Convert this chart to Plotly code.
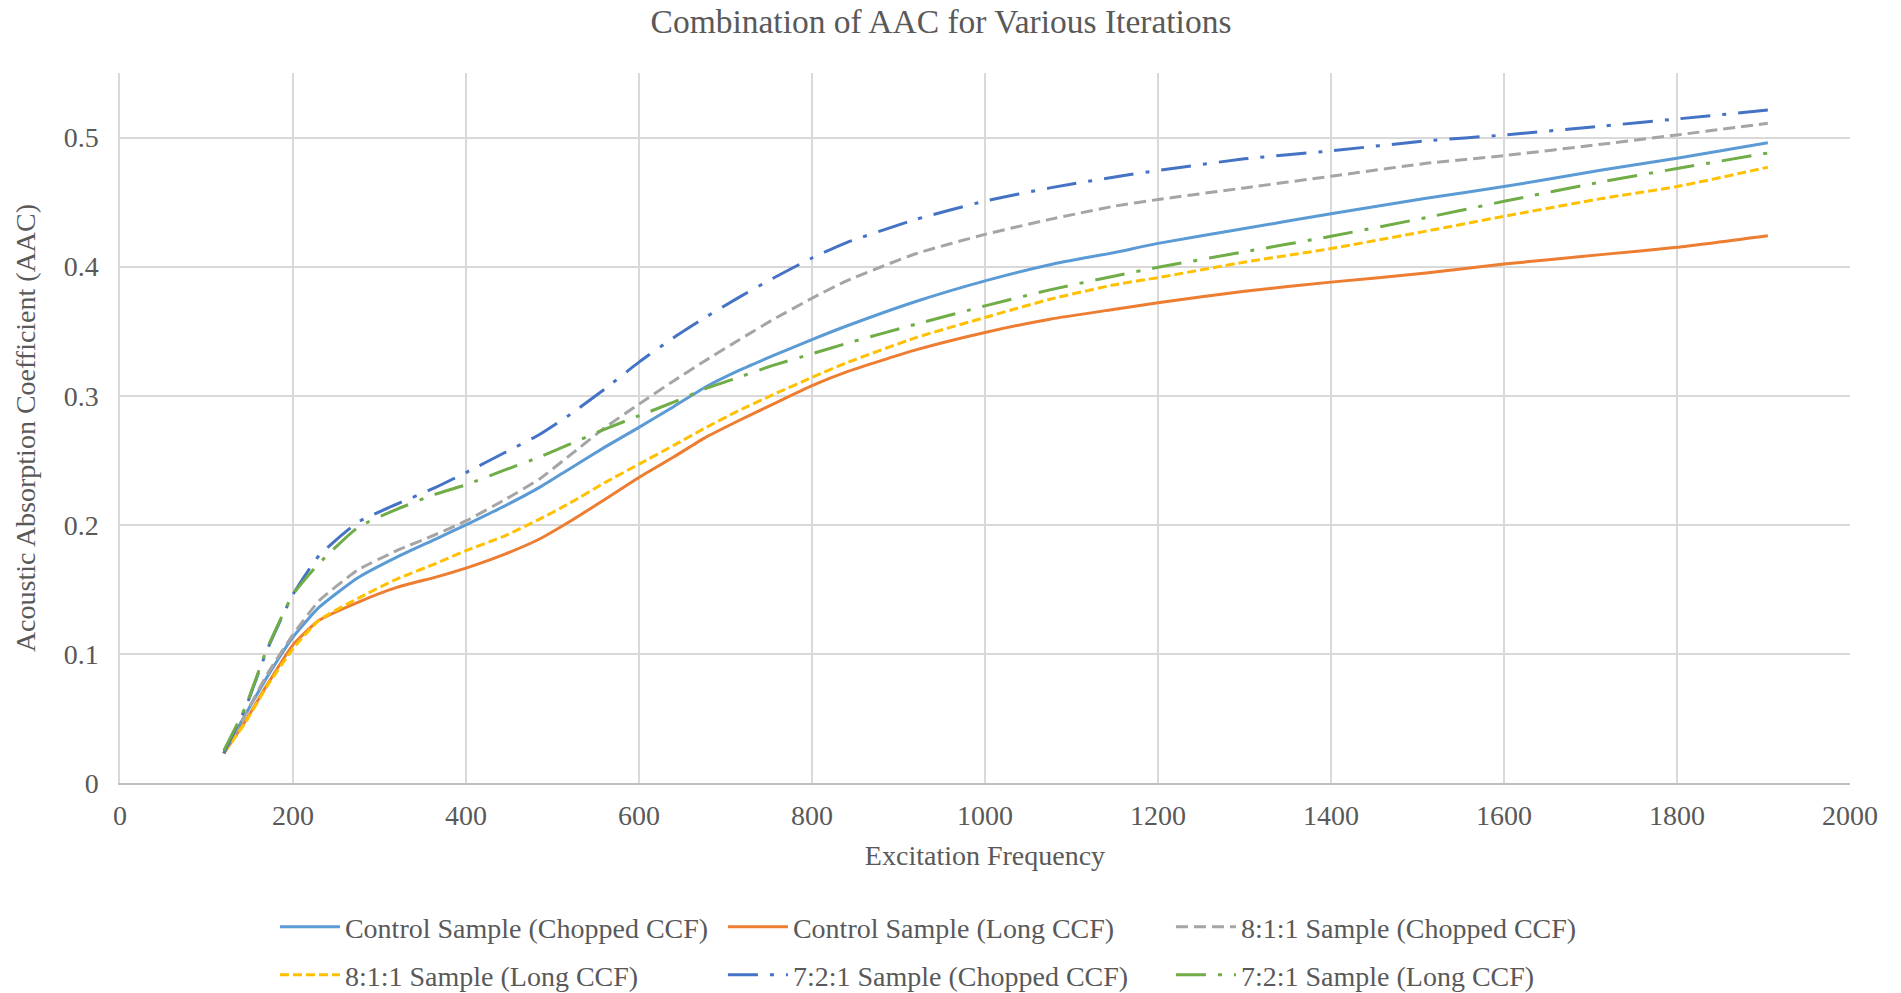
import plotly.graph_objects as go

freq = [120, 145, 170, 200, 230, 275, 320, 365, 400, 445, 485, 520, 560, 600, 640, 675,
        715, 755, 800, 840, 920, 1000, 1075, 1150, 1200, 1300, 1400, 1510, 1600, 1715, 1800, 1905]

control_chopped = [0.023, 0.053, 0.082, 0.113, 0.136, 0.159, 0.175, 0.189, 0.200, 0.2147,
                   0.229, 0.2435, 0.260, 0.2755, 0.2915, 0.306, 0.3194, 0.331, 0.3435, 0.354,
                   0.373, 0.389, 0.4015, 0.411, 0.418, 0.4295, 0.441, 0.453, 0.462, 0.475,
                   0.484, 0.496]

control_long = [0.023, 0.048, 0.076, 0.107, 0.126, 0.140, 0.1515, 0.1595, 0.1665, 0.1773,
                0.189, 0.2025, 0.2195, 0.2367, 0.2525, 0.267, 0.2806, 0.2935, 0.3078, 0.3185,
                0.3355, 0.349, 0.3593, 0.367, 0.372, 0.381, 0.388, 0.395, 0.402, 0.4095,
                0.415, 0.424]

s811_chopped = [0.023, 0.053, 0.084, 0.115, 0.141, 0.165, 0.180, 0.1925, 0.203, 0.2195,
                0.2355, 0.2538, 0.275, 0.2935, 0.3115, 0.3265, 0.343, 0.359, 0.3755, 0.389,
                0.410, 0.425, 0.4366, 0.4469, 0.452, 0.461, 0.470, 0.480, 0.486, 0.495,
                0.502, 0.511]

s811_long = [0.023, 0.047, 0.075, 0.104, 0.126, 0.143, 0.158, 0.170, 0.180, 0.1915,
             0.2044, 0.2168, 0.2325, 0.247, 0.2615, 0.2745, 0.2884, 0.3008, 0.3142, 0.3255,
             0.345, 0.3606, 0.3747, 0.386, 0.3915, 0.4035, 0.414, 0.4275, 0.439, 0.453,
             0.462, 0.477]

s721_chopped = [0.023, 0.058, 0.103, 0.146, 0.176, 0.202, 0.216, 0.229, 0.2405, 0.256,
                0.270, 0.2853, 0.305, 0.326, 0.345, 0.360, 0.376, 0.391, 0.4067, 0.4186,
                0.4366, 0.4508, 0.461, 0.4695, 0.4745, 0.4835, 0.4897, 0.4974, 0.502, 0.509,
                0.5144, 0.5213]

s721_long = [0.025, 0.059, 0.104, 0.146, 0.170, 0.198, 0.212, 0.2238, 0.231, 0.2425,
             0.2525, 0.2625, 0.274, 0.2845, 0.295, 0.305, 0.3142, 0.3235, 0.3325, 0.3405,
             0.3554, 0.3696, 0.382, 0.3928, 0.3995, 0.4115, 0.4235, 0.438, 0.4506, 0.466,
             0.476, 0.488]

x_ticks = [0, 200, 400, 600, 800, 1000, 1200, 1400, 1600, 1800, 2000]
y_ticks = [0, 0.1, 0.2, 0.3, 0.4, 0.5]
y_tick_text = ["0", "0.1", "0.2", "0.3", "0.4", "0.5"]

FONT = "Liberation Serif, Times New Roman, serif"
TXT = "#595959"

series = [
    ("Control Sample (Chopped CCF)", control_chopped, "#5B9BD5", "solid", "legend"),
    ("Control Sample (Long CCF)", control_long, "#ED7D31", "solid", "legend"),
    ("8:1:1 Sample (Chopped CCF)", s811_chopped, "#A5A5A5", "12px,6px", "legend"),
    ("8:1:1 Sample (Long CCF)", s811_long, "#FFC000", "9px,4px", "legend2"),
    ("7:2:1 Sample (Chopped CCF)", s721_chopped, "#4472C4", "30px,12px,4px,12px", "legend2"),
    ("7:2:1 Sample (Long CCF)", s721_long, "#70AD47", "30px,12px,4px,12px", "legend2"),
]

fig = go.Figure()
for name, ys, color, dash, leg in series:
    fig.add_trace(go.Scatter(
        x=freq, y=ys, name=name, mode="lines", legend=leg,
        line=dict(color=color, width=3, dash=dash, shape="spline", smoothing=0.5),
    ))

legend_common = dict(orientation="h", x=0.478, xanchor="center", yref="container",
                     yanchor="middle", entrywidth=373, entrywidthmode="pixels",
                     font=dict(family=FONT, size=28, color=TXT), itemwidth=60,
                     bgcolor="rgba(0,0,0,0)")

fig.update_layout(
    width=1901, height=993,
    paper_bgcolor="white", plot_bgcolor="white",
    margin=dict(l=120, r=51, t=73, b=210),
    font=dict(family=FONT, size=28, color=TXT),
    title=dict(text="Combination of AAC for Various Iterations", x=0.495, xanchor="center",
               y=0.979, yanchor="middle", font=dict(family=FONT, size=33.5, color=TXT)),
    showlegend=True,
    legend=dict(y=1 - 927 / 993, **legend_common),
    legend2=dict(y=1 - 975 / 993, **legend_common),
)

fig.update_xaxes(range=[0, 2000], tickvals=x_ticks, ticktext=[str(v) for v in x_ticks],
                 showgrid=True, gridcolor="#D9D9D9", gridwidth=1.5,
                 showline=True, linecolor="#BFBFBF", linewidth=1.5,
                 zeroline=False, ticks="", ticklabelstandoff=7,
                 title=dict(text="Excitation Frequency", standoff=15,
                            font=dict(family=FONT, size=28, color=TXT)))
fig.update_yaxes(range=[0, 0.55], tickvals=y_ticks, ticktext=y_tick_text,
                 showgrid=True, gridcolor="#D9D9D9", gridwidth=1.5,
                 showline=True, linecolor="#D9D9D9", linewidth=1.5,
                 zeroline=False, ticks="", ticklabelstandoff=14,
                 title=dict(text="Acoustic Absorption Coefficient (AAC)", standoff=20,
                            font=dict(family=FONT, size=28, color=TXT)))

fig.write_html("out.html")
